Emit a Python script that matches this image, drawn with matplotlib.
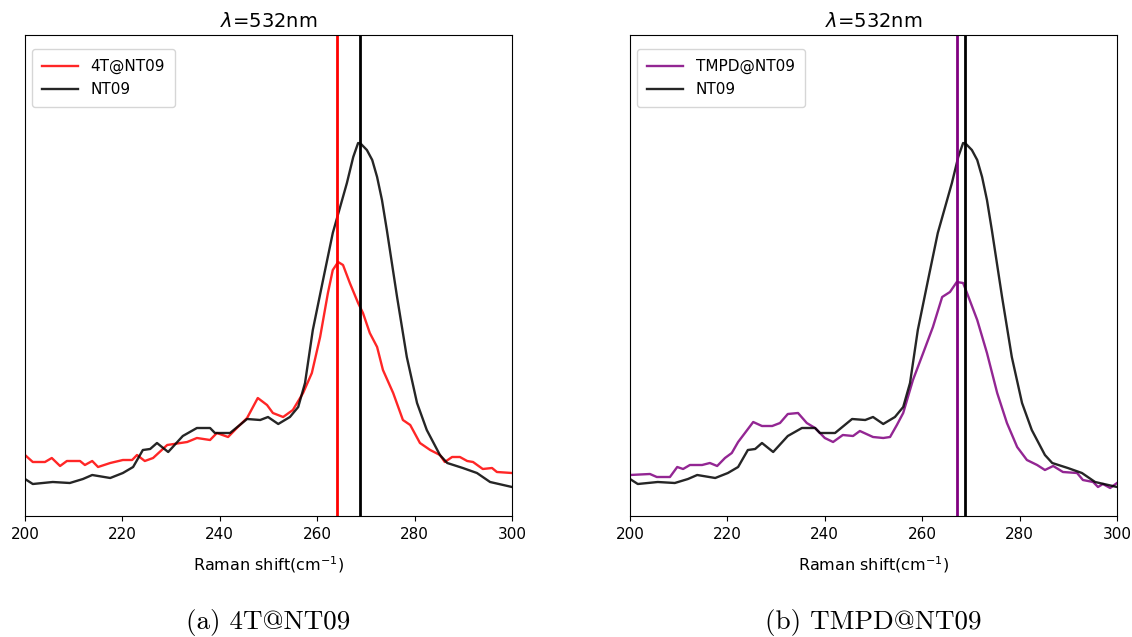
import matplotlib
matplotlib.use("Agg")
import matplotlib.pyplot as plt

# NT09 reference spectrum (same in both panels)
nt09_shift = [200, 201.6, 205.7, 209.2, 211.9, 213.8, 217.5, 220.1, 222.2, 224.2,
              225.7, 227.1, 229.4, 232.4, 235.3, 238.0, 239.0, 242.1, 245.6, 248.3,
              249.9, 252.0, 254.4, 256.1, 257.5, 259.1, 261.2, 263.2, 266.1, 267.4,
              268.4, 269.0, 270.2, 271.3, 272.3, 273.3, 274.3, 276.4, 278.4, 280.5,
              282.5, 285.2, 286.7, 289.9, 292.8, 295.5, 300]
nt09_int = [37, 32, 34, 33, 37, 41, 38, 43, 49, 66,
            67, 73, 64, 80, 88, 88, 83, 83, 97, 96,
            99, 92, 99, 109, 133, 186, 236, 283, 333, 359,
            373, 372, 366, 356, 339, 316, 286, 219, 159, 113,
            86, 61, 53, 48, 43, 34, 29]

# 4T@NT09
t4_shift = [200, 201.6, 204.1, 205.5, 207.2, 208.6, 211.3, 212.3, 213.8, 215.0,
            217.5, 220.1, 222.0, 223.0, 224.6, 226.3, 229.2, 233.3, 235.3, 238.0,
            239.4, 241.7, 243.5, 245.6, 247.8, 249.7, 250.9, 253.0, 255.0, 257.1,
            258.9, 260.6, 262.2, 263.2, 264.3, 265.3, 266.7, 268.4, 269.4, 270.8,
            272.3, 273.5, 275.6, 277.6, 279.1, 281.1, 283.2, 285.2, 286.2, 287.7,
            289.3, 290.8, 292.0, 294.0, 295.9, 296.9, 300]
t4_int = [61, 54, 54, 58, 50, 55, 55, 51, 55, 49,
          53, 56, 56, 61, 55, 58, 71, 74, 78, 76,
          83, 79, 88, 98, 118, 111, 103, 99, 106, 123,
          143, 179, 223, 246, 254, 251, 233, 213, 203, 183,
          169, 146, 123, 96, 91, 73, 66, 61, 54, 59,
          59, 55, 54, 47, 48, 44, 43]

# TMPD@NT09
tmpd_shift = [200, 204.1, 205.5, 208.2, 209.7, 210.9, 212.3, 214.8, 216.4, 217.9,
              219.5, 220.9, 222.2, 223.6, 225.3, 227.1, 229.2, 230.8, 232.4, 234.5,
              236.3, 238.0, 240.0, 241.7, 243.7, 245.8, 247.2, 249.9, 252.0, 253.4,
              254.8, 256.1, 258.1, 260.2, 262.2, 264.1, 265.7, 267.1, 268.4, 269.2,
              271.3, 273.3, 275.4, 277.4, 279.5, 281.5, 283.6, 285.2, 286.9, 288.9,
              291.8, 293.0, 295.1, 296.1, 297.1, 298.6, 300]
tmpd_int = [41, 42, 39, 39, 49, 47, 51, 51, 53, 50,
            58, 63, 74, 83, 94, 90, 90, 93, 102, 103,
            93, 88, 78, 74, 81, 80, 85, 79, 78, 79,
            91, 103, 136, 163, 189, 219, 224, 234, 233, 223,
            196, 163, 123, 93, 69, 56, 51, 46, 50, 44,
            43, 36, 34, 29, 32, 28, 33]

# peak positions marked with vertical lines
peak_nt09 = 268.7
peak_4t = 264.0
peak_tmpd = 267.1

panels = [
    ("4T@NT09", t4_shift, t4_int, peak_4t, "red", "(a) 4T@NT09"),
    ("TMPD@NT09", tmpd_shift, tmpd_int, peak_tmpd, "purple", "(b) TMPD@NT09"),
]

fig = plt.figure(figsize=(11.32, 6.37), dpi=100)
lefts = [25 / 1132, 630 / 1132]
width = 487 / 1132
bottom = 1 - 516 / 637
height = 481 / 637

for left, (name, xs, ys, peak, color, caption) in zip(lefts, panels):
    ax = fig.add_axes([left, bottom, width, height])
    ax.plot(xs, ys, color=color, lw=1.7, alpha=0.85, label=name)
    ax.plot(nt09_shift, nt09_int, color="black", lw=1.7, alpha=0.85, label="NT09")
    ax.axvline(peak, color=color, lw=2)
    ax.axvline(peak_nt09, color="black", lw=2)
    ax.set_xlim(200, 300)
    ax.set_ylim(0, 481)
    ax.set_yticks([])
    ax.set_xticks([200, 220, 240, 260, 280, 300])
    ax.tick_params(axis="x", labelsize=11, pad=4.5)
    ax.set_xlabel(r"Raman shift(cm$^{-1}$)", fontsize=11.5, labelpad=9)
    ax.set_title(r"$\lambda$=532nm", fontsize=14)
    ax.legend(loc="upper left", fontsize=11, bbox_to_anchor=(0.014, 0.971),
              borderaxespad=0, borderpad=0.65, handlelength=2.4,
              labelspacing=0.55)
    fig.text(left + width / 2, 1 - 622 / 637, caption, ha="center", va="center",
             fontsize=19.5, family=["cmr10", "DejaVu Serif"])

plt.savefig("out.png", dpi=100)
